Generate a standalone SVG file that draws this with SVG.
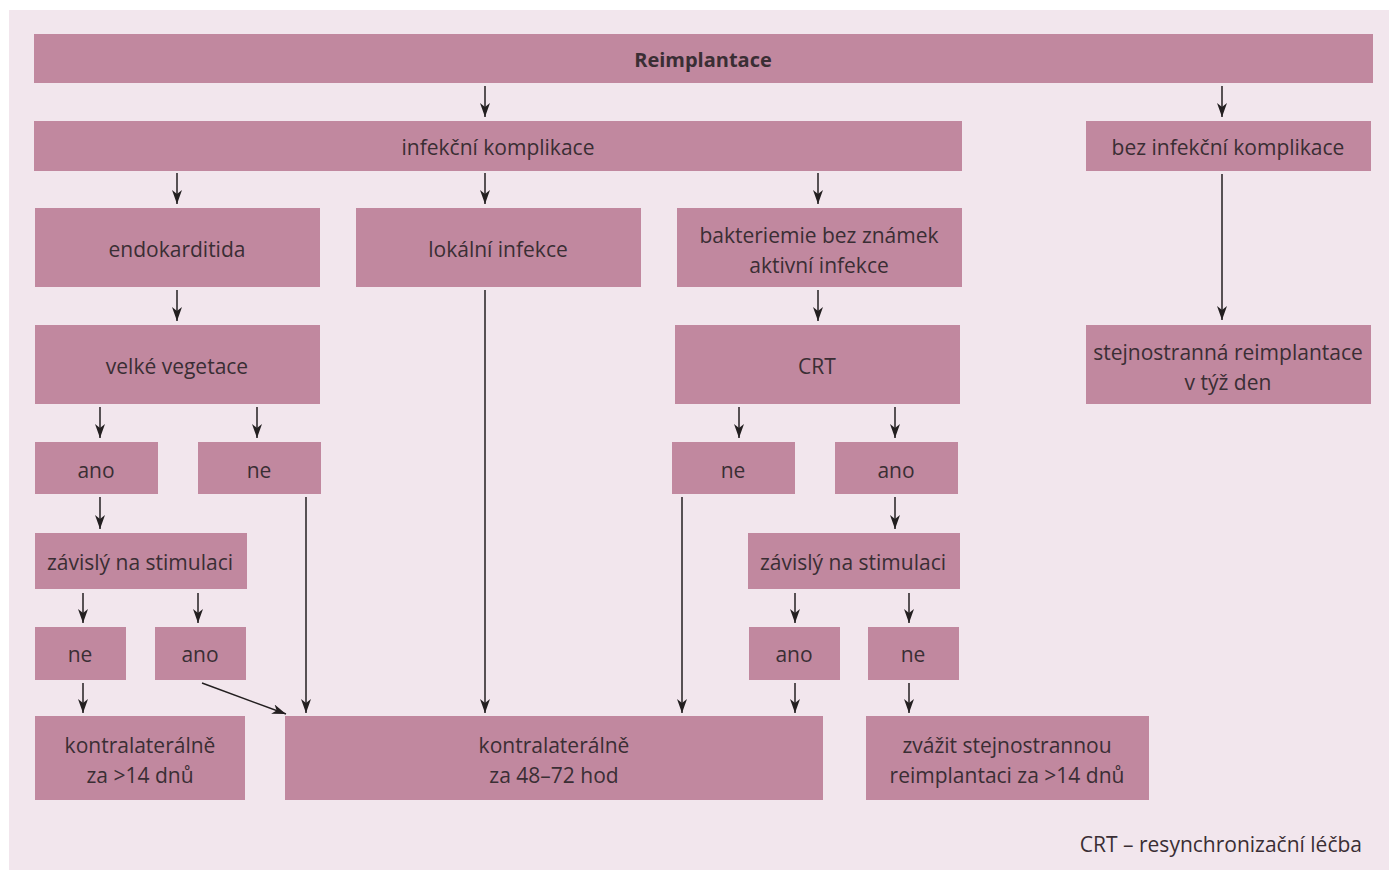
<svg xmlns="http://www.w3.org/2000/svg" width="1389" height="870" viewBox="0 0 1389 870">
<style>
.bg{fill:#f2e6ed}
.box{fill:#c1889f}
.t{font-family:"Open Sans","Noto Sans","Liberation Sans",sans-serif;font-size:21px;fill:#3a2e34;text-anchor:middle}
.b{font-weight:bold;font-size:20px}
.c{stroke:#231f20;stroke-width:1.5;fill:none}
.a{marker-end:url(#ah)}
</style>
<defs>
<marker id="ah" markerUnits="userSpaceOnUse" viewBox="0 0 14 10" markerWidth="14" markerHeight="10" refX="14" refY="5" orient="auto">
<path d="M0,0 L14,5 L0,10 L4,5 z" fill="#231f20"/>
</marker>
</defs>
<rect class="bg" x="9" y="10" width="1380" height="860"/>

<g id="n-reimplantace"><rect class="box" x="34" y="34" width="1339" height="49"/><text class="t b" x="703" y="67">Reimplantace</text></g>
<g id="n-infekcni"><rect class="box" x="34" y="121" width="928" height="50"/><text class="t" x="498" y="155">infekční komplikace</text></g>
<g id="n-bez"><rect class="box" x="1086" y="121" width="285" height="50"/><text class="t" x="1228" y="155">bez infekční komplikace</text></g>
<g id="n-endokarditida"><rect class="box" x="35" y="208" width="285" height="79"/><text class="t" x="177" y="257">endokarditida</text></g>
<g id="n-lokalni"><rect class="box" x="356" y="208" width="285" height="79"/><text class="t" x="498" y="257">lokální infekce</text></g>
<g id="n-bakteriemie"><rect class="box" x="677" y="208" width="285" height="79"/><text class="t" x="819" y="243">bakteriemie bez známek</text><text class="t" x="819" y="273">aktivní infekce</text></g>
<g id="n-vegetace"><rect class="box" x="35" y="325" width="285" height="79"/><text class="t" x="177" y="374">velké vegetace</text></g>
<g id="n-crt"><rect class="box" x="675" y="325" width="285" height="79"/><text class="t" x="817" y="374">CRT</text></g>
<g id="n-stejnostranna"><rect class="box" x="1086" y="325" width="285" height="79"/><text class="t" x="1228" y="360">stejnostranná reimplantace</text><text class="t" x="1228" y="390">v týž den</text></g>
<g id="n-ano-l"><rect class="box" x="35" y="442" width="123" height="52"/><text class="t" x="96" y="478">ano</text></g>
<g id="n-ne-l"><rect class="box" x="198" y="442" width="123" height="52"/><text class="t" x="259" y="478">ne</text></g>
<g id="n-ne-r"><rect class="box" x="672" y="442" width="123" height="52"/><text class="t" x="733" y="478">ne</text></g>
<g id="n-ano-r"><rect class="box" x="835" y="442" width="123" height="52"/><text class="t" x="896" y="478">ano</text></g>
<g id="n-zavisly-l"><rect class="box" x="35" y="533" width="212" height="56"/><text class="t" x="140" y="570">závislý na stimulaci</text></g>
<g id="n-zavisly-r"><rect class="box" x="748" y="533" width="212" height="56"/><text class="t" x="853" y="570">závislý na stimulaci</text></g>
<g id="n-ne-l2"><rect class="box" x="35" y="627" width="91" height="53"/><text class="t" x="80" y="662">ne</text></g>
<g id="n-ano-l2"><rect class="box" x="155" y="627" width="91" height="53"/><text class="t" x="200" y="662">ano</text></g>
<g id="n-ano-r2"><rect class="box" x="749" y="627" width="91" height="53"/><text class="t" x="794" y="662">ano</text></g>
<g id="n-ne-r2"><rect class="box" x="868" y="627" width="91" height="53"/><text class="t" x="913" y="662">ne</text></g>
<g id="n-kontra14"><rect class="box" x="35" y="716" width="210" height="84"/><text class="t" x="140" y="753">kontralaterálně</text><text class="t" x="140" y="783">za &gt;14 dnů</text></g>
<g id="n-kontra48"><rect class="box" x="285" y="716" width="538" height="84"/><text class="t" x="554" y="753">kontralaterálně</text><text class="t" x="554" y="783">za 48–72 hod</text></g>
<g id="n-zvazit"><rect class="box" x="866" y="716" width="283" height="84"/><text class="t" x="1007" y="753">zvážit stejnostrannou</text><text class="t" x="1007" y="783">reimplantaci za &gt;14 dnů</text></g>

<g id="connectors">
<line class="c a" x1="485" y1="86" x2="485" y2="117"/>
<line class="c a" x1="1222" y1="86" x2="1222" y2="117"/>
<line class="c a" x1="177" y1="173" x2="177" y2="204"/>
<line class="c a" x1="485" y1="173" x2="485" y2="204"/>
<line class="c a" x1="818" y1="173" x2="818" y2="204"/>
<line class="c a" x1="1222" y1="174" x2="1222" y2="320"/>
<line class="c a" x1="177" y1="290" x2="177" y2="321"/>
<line class="c a" x1="818" y1="290" x2="818" y2="321"/>
<line class="c a" x1="485" y1="290" x2="485" y2="713"/>
<line class="c a" x1="100" y1="407" x2="100" y2="438"/>
<line class="c a" x1="257" y1="407" x2="257" y2="438"/>
<line class="c a" x1="739" y1="407" x2="739" y2="438"/>
<line class="c a" x1="895" y1="407" x2="895" y2="438"/>
<line class="c a" x1="100" y1="497" x2="100" y2="529"/>
<line class="c a" x1="895" y1="497" x2="895" y2="529"/>
<line class="c a" x1="306" y1="497" x2="306" y2="713"/>
<line class="c a" x1="682" y1="497" x2="682" y2="713"/>
<line class="c a" x1="83" y1="593" x2="83" y2="623"/>
<line class="c a" x1="198" y1="593" x2="198" y2="623"/>
<line class="c a" x1="795" y1="593" x2="795" y2="623"/>
<line class="c a" x1="909" y1="593" x2="909" y2="623"/>
<line class="c a" x1="83" y1="683" x2="83" y2="713"/>
<line class="c a" x1="202" y1="683" x2="286" y2="714"/>
<line class="c a" x1="795" y1="683" x2="795" y2="713"/>
<line class="c a" x1="909" y1="683" x2="909" y2="713"/>
</g>
<text class="t" style="text-anchor:end" x="1362" y="852">CRT – resynchronizační léčba</text>
</svg>
